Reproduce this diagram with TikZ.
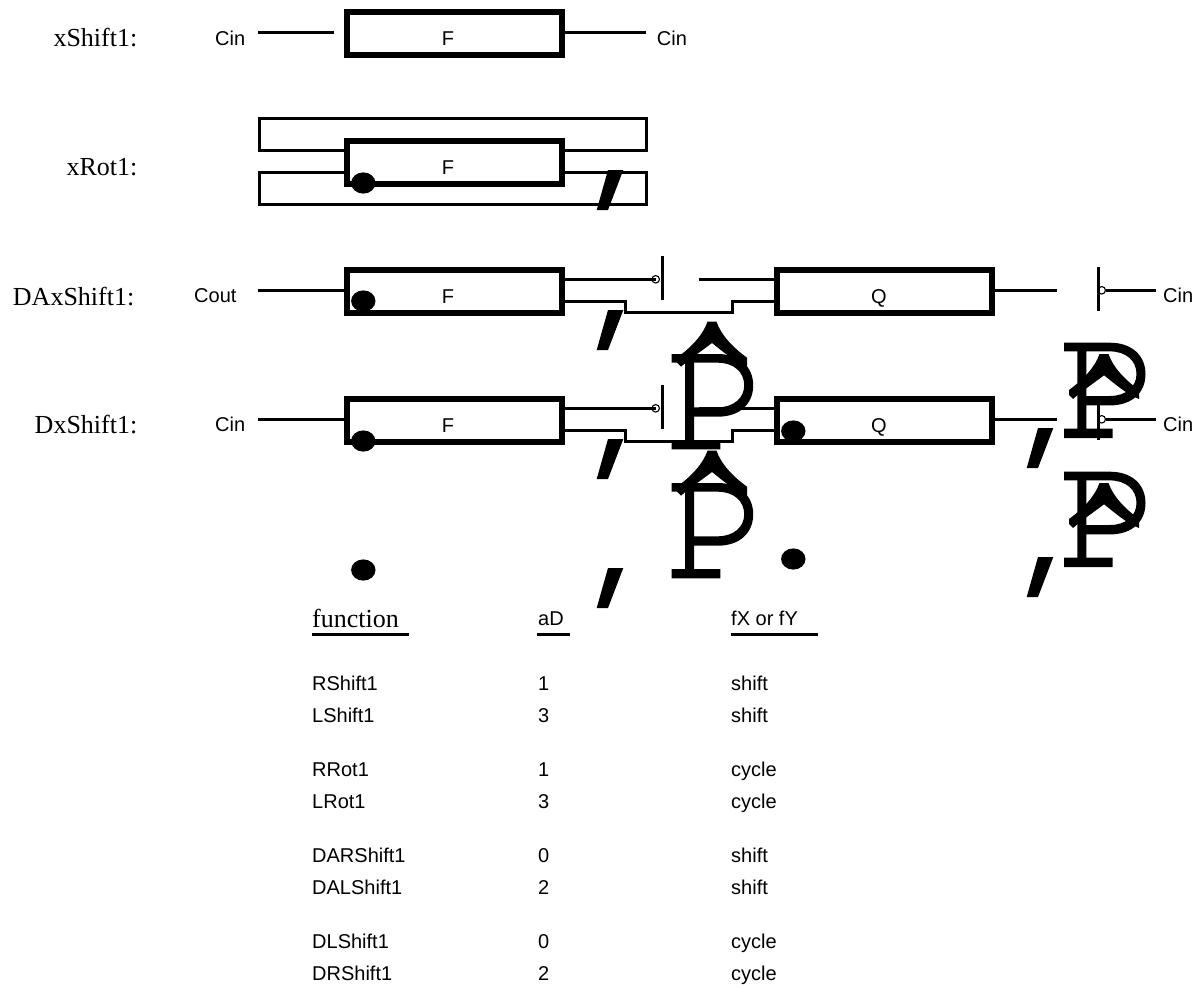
\documentclass[tikz,border=0pt]{standalone}
\usepackage{fontspec}
\setmainfont{Liberation Sans}
\newfontfamily\serifname{Liberation Serif}
\tikzset{
  x=1pt,y=-1pt,
  funcbox/.style={draw,line width=6pt,minimum width=214.7pt,minimum height=42.7pt,inner sep=0pt},
  wire/.style={line width=3pt},
  sans/.style={font=\fontsize{20}{20}\selectfont,inner sep=0pt,anchor=base west},
  rowlabel/.style={font=\serifname\fontsize{26}{26}\selectfont,inner sep=0pt,anchor=base east},
  heading/.style={font=\serifname\fontsize{26}{26}\selectfont,inner sep=0pt,anchor=base west},
  bubble/.style={draw,line width=1.1pt,circle,minimum size=7.5pt,inner sep=0pt},
}
\newcommand{\PGlyph}[2]{%
  \begin{scope}[shift={(#1,#2)}]
    \fill (0,0) -- (46,0) .. controls (68,0) and (81.5,13) .. (81.5,31.3)
      .. controls (81.5,50) and (68,62.7) .. (46,62.7) -- (22.3,62.7) -- (22.3,86) -- (48.6,86) -- (48.6,95.3) -- (0,95.3) -- (0,86) -- (13.3,86)
      -- (13.3,8.7) -- (0,8.7) -- cycle
      (22.3,8.7) -- (22.3,53.3) -- (46,53.3) .. controls (62,53.3) and (72.5,44) .. (72.5,31.3)
      .. controls (72.5,18) and (62,8.7) .. (46,8.7) -- cycle;
  \end{scope}}
\newcommand{\CaretGlyph}[2]{%
  \begin{scope}[shift={(#1,#2)}]
    \fill (-4.5,0) -- (4.5,0) .. controls (9,13) and (20,25) .. (35,36) -- (35,45)
      .. controls (22,40) and (10,29) .. (0,21.3)
      .. controls (-10,29) and (-22,37) .. (-31,45) -- (-35,41) -- (-35,36)
      .. controls (-20,25) and (-9,13) .. (-4.5,0) -- cycle;
  \end{scope}}
\newcommand{\CommaGlyph}[2]{%
  \fill (#1,#2) -- ++(15.3,0) -- ++(-15.3,40) -- ++(-11.3,0) -- cycle;}
\begin{document}
\begin{tikzpicture}
\useasboundingbox (0,0) rectangle (1200,988);
% boxes
\node[funcbox] (f1) at (454.3,33.3) {};
\node[funcbox] (f2) at (454.3,162.5) {};
\node[funcbox] (f3) at (454.3,291.5) {};
\node[funcbox] (q3) at (884.3,291.5) {};
\node[funcbox] (f4) at (454.3,420.2) {};
\node[funcbox] (q4) at (884.3,420.2) {};
\node[sans] (ft1) at (441.7,45) {F};
\node[sans] (ft2) at (441.7,174) {F};
\node[sans] (ft3) at (441.7,303) {F};
\node[sans] (ft4) at (441.7,432) {F};
\node[sans] (qt3) at (871,303) {Q};
\node[sans] (qt4) at (871,432) {Q};
% row 1
\coordinate (c1a) at (258,32.3);
\coordinate (c1b) at (334,32.3);
\coordinate (c1c) at (646,32.3);
\draw[wire] (c1a) -- (c1b);
\draw[wire] (f1.east |- c1c) -- (c1c);
% row 2 loops
\coordinate (r2l) at (259.5,118.5);
\coordinate (r2r) at (646.5,118.5);
\draw[wire,line join=miter] (f2.west |- 0,150.3) -- (259.5,150.3) -- (r2l) -- (r2r) -- (646.5,150.3) -- (f2.east |- 0,150.3);
\draw[wire] (f2.west |- 0,172.7) -- (259.5,172.7) -- (259.5,204.5) -- (646.5,204.5) -- (646.5,172.7) -- (f2.east |- 0,172.7);
% row 3
\coordinate (c3in) at (258,290.3);
\draw[wire] (c3in) -- (f3.west |- c3in);
\node[bubble] (b3) at (655.7,279.3) {};
\coordinate (bar3t) at (662.3,256);
\coordinate (bar3b) at (662.3,300);
\draw[wire] (bar3t) -- (bar3b);
\draw[wire] (f3.east |- b3) -- (b3.center);
\coordinate (c3g) at (699,279.3);
\draw[wire] (c3g) -- (q3.west |- c3g);
\draw[wire] (f3.east |- 0,301.7) -- (625.7,301.7) -- (625.7,312.3) -- (732.7,312.3) -- (732.7,301.7) -- (q3.west |- 0,301.7);
\coordinate (c3o) at (1056.7,290.3);
\draw[wire] (q3.east |- c3o) -- (c3o);
\node[bubble] (b3r) at (1101.7,290.3) {};
\coordinate (bar3rt) at (1098.3,267);
\coordinate (bar3rb) at (1098.3,310.7);
\draw[wire] (bar3rt) -- (bar3rb);
\coordinate (c3e) at (1155.7,290.3);
\draw[wire] (b3r.east) -- (c3e);
% row 4
\coordinate (c4in) at (258,419.3);
\draw[wire] (c4in) -- (f4.west |- c4in);
\node[bubble] (b4) at (655.7,408.3) {};
\coordinate (bar4t) at (662.3,385);
\coordinate (bar4b) at (662.3,428.7);
\draw[wire] (bar4t) -- (bar4b);
\draw[wire] (f4.east |- b4) -- (b4.center);
\coordinate (c4g) at (699,408.3);
\draw[wire] (c4g) -- (q4.west |- c4g);
\draw[wire] (f4.east |- 0,430.7) -- (625.7,430.7) -- (625.7,441.3) -- (732.7,441.3) -- (732.7,430.7) -- (q4.west |- 0,430.7);
\coordinate (c4o) at (1056.7,419.3);
\draw[wire] (q4.east |- c4o) -- (c4o);
\node[bubble] (b4r) at (1101.7,419.3) {};
\coordinate (bar4rt) at (1098.3,396);
\coordinate (bar4rb) at (1098.3,439.7);
\draw[wire] (bar4rt) -- (bar4rb);
\coordinate (c4e) at (1155.7,419.3);
\draw[wire] (b4r.east) -- (c4e);
% stray glyph shapes
\foreach \px/\py in {363.3/183,363.3/301,363.3/441,363.3/570,793.3/431,793.3/559}
  \fill (\px,\py) ellipse [x radius=12.2,y radius=10.6];
\CommaGlyph{608}{170}
\CommaGlyph{608}{310}
\CommaGlyph{608}{439}
\CommaGlyph{608}{568}
\CommaGlyph{1038}{428}
\CommaGlyph{1038}{557}
\PGlyph{671.7}{354}
\PGlyph{671.7}{483}
\CaretGlyph{712}{321.7}
\CaretGlyph{712}{450.7}
\PGlyph{1064}{342.7}
\PGlyph{1064}{471.7}
\CaretGlyph{1104}{354}
\CaretGlyph{1104}{483}
% labels
\node[rowlabel] (l1) at (137.5,46.7) {xShift1:};
\node[rowlabel] (l2) at (137.5,175.7) {xRot1:};
\node[rowlabel] (l3) at (134.5,305) {DAxShift1:};
\node[rowlabel] (l4) at (137.5,433) {DxShift1:};
\node[sans] (t1) at (215,45) {Cin};
\node[sans] (t2) at (656.7,45) {Cin};
\node[sans] (t3) at (194,302.7) {Cout};
\node[sans] (t4) at (1163,302.7) {Cin};
\node[sans] (t5) at (215,431.7) {Cin};
\node[sans] (t6) at (1163,431.7) {Cin};
% table
\node[heading] (h1) at (312,627.7) {function};
\node[sans] (h2) at (538,625) {aD};
\node[sans] (h3) at (731,625) {fX or fY};
\coordinate (u1a) at (312,634);\coordinate (u1b) at (409,634);
\coordinate (u2a) at (537,634);\coordinate (u2b) at (570,634);
\coordinate (u3a) at (731,634);\coordinate (u3b) at (818,634);
\draw[wire] (u1a) -- (u1b);
\draw[wire] (u2a) -- (u2b);
\draw[wire] (u3a) -- (u3b);
\foreach \yy/\aa/\bb/\cc in {690/RShift1/1/shift,722/LShift1/3/shift,776/RRot1/1/cycle,808/LRot1/3/cycle,862/DARShift1/0/shift,894/DALShift1/2/shift,948/DLShift1/0/cycle,980/DRShift1/2/cycle}{
  \node[sans] at (312,\yy) {\aa};
  \node[sans] at (538,\yy) {\bb};
  \node[sans] at (731,\yy) {\cc};
}
\end{tikzpicture}
\end{document}
